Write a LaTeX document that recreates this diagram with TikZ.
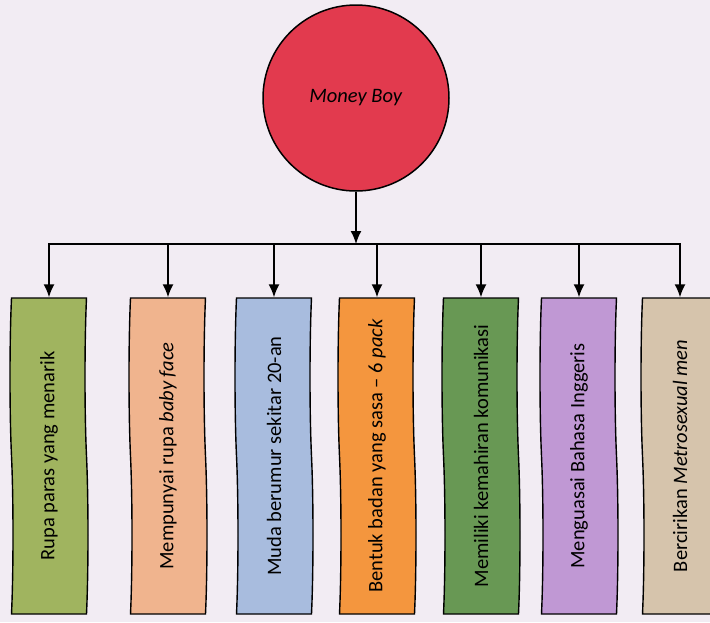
\documentclass[tikz,border=0pt]{standalone}
\usepackage{fontspec}
\setmainfont{Carlito}
\usetikzlibrary{shapes.symbols,arrows.meta}

\definecolor{latar}{RGB}{242,236,243}
\definecolor{merah}{RGB}{226,58,78}
\definecolor{zaitun}{RGB}{160,180,95}
\definecolor{pic}{RGB}{240,180,142}
\definecolor{biru}{RGB}{168,188,222}
\definecolor{oren}{RGB}{244,150,62}
\definecolor{hijau}{RGB}{104,152,84}
\definecolor{ungu}{RGB}{192,152,212}
\definecolor{perang}{RGB}{214,196,172}

\begin{document}
\begin{tikzpicture}[->,>={Latex[length=13pt,width=11pt]},x=1pt,y=1pt,line width=1.6pt,
                    every node/.style={font=\fontsize{20.5}{24}\selectfont},
                    ciri/.style={shape=tape,draw,rotate=90,line width=1.4pt,tape bend height=3pt,
                                 minimum width=316pt,minimum height=78pt,inner sep=2pt}]

  \fill[latar,-] (0,0) rectangle (710,-622);
  \useasboundingbox (0,0) rectangle (710,-622);

  \node[shape=circle,fill=merah,draw,line width=1.5pt,minimum size=186pt] (mb) at (356,-98) {\textit{Money Boy}};

  \node[ciri,fill=zaitun] (r1) at (49,-456)  {Rupa paras yang menarik};
  \node[ciri,fill=pic]    (r2) at (168,-456) {Mempunyai rupa \textit{baby face}};
  \node[ciri,fill=biru]   (r3) at (274,-456) {Muda berumur sekitar 20-an};
  \node[ciri,fill=oren]   (r4) at (377,-456) {Bentuk badan yang sasa -- 6 \textit{pack}};
  \node[ciri,fill=hijau]  (r5) at (481,-456) {Memiliki kemahiran komunikasi};
  \node[ciri,fill=ungu]   (r6) at (579,-456) {Menguasai Bahasa Inggeris};
  \node[ciri,fill=perang] (r7) at (680,-456) {Bercirikan \textit{Metrosexual men}};

  \coordinate (bus) at (356,-244);

  \draw (mb) -- (bus);
  \draw[<->] (r1.east) |- (bus) -| (r7.east);
  \draw (r2.east |- bus) -- (r2.east);
  \draw (r3.east |- bus) -- (r3.east);
  \draw (r4.east |- bus) -- (r4.east);
  \draw (r5.east |- bus) -- (r5.east);
  \draw (r6.east |- bus) -- (r6.east);
\end{tikzpicture}
\end{document}
